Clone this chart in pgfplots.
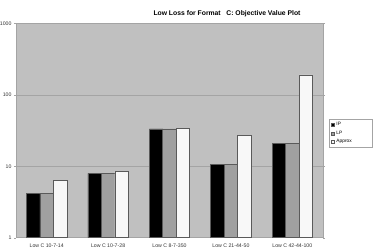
\documentclass[border=0pt]{standalone}
\usepackage{fontspec}
\setmainfont{Liberation Sans}
\usepackage{pgfplots}
\pgfplotsset{compat=1.18}
\definecolor{bg}{HTML}{C0C0C0}
\definecolor{lp}{HTML}{A0A0A0}
\definecolor{ap}{HTML}{F8F8F8}
\definecolor{edge}{HTML}{5A5A5A}
\definecolor{gridc}{HTML}{A4A4A4}
\begin{document}
\begin{tikzpicture}[x=1pt,y=1pt]
\useasboundingbox (0,0) rectangle (379,251);
\node[font=\bfseries\fontsize{6.8}{7}\selectfont] at (227,237) {Low Loss for Format\ \ \ C: Objective Value Plot};
\begin{axis}[
  at={(16pt,13.3pt)}, anchor=south west,
  scale only axis, width=307pt, height=214.2pt,
  ymode=log, ymin=1, ymax=1000,
  xmin=-0.5, xmax=4.5,
  ybar=0pt, bar width=13.5pt,
  axis background/.style={fill=bg},
  axis line style={gridc, line width=0.8pt},
  ytick={1,10,100,1000}, yticklabels={1,10,100,1000},
  yminorticks=false,
  ymajorgrids, major grid style={gridc, line width=0.6pt},
  xtick={0,1,2,3,4},
  xticklabels={Low C 10-7-14, Low C 10-7-28, Low C 8-7-350, Low C 21-44-50, Low C 42-44-100},
  x tick style={draw=none},
  extra x ticks={0.5,1.5,2.5,3.5},
  extra x tick labels={},
  extra x tick style={tick style={draw=gridc}},
  y tick style={gridc}, major tick length=2pt, tick align=outside,
  tick label style={font=\fontsize{5.2}{6}\selectfont, text=black!80},
  yticklabel style={xshift=1pt},
  xticklabel style={yshift=-1pt},
  /pgf/number format/assume math mode=true,
  legend style={at={(1.0195,0.552)}, anchor=north west, draw=gridc, fill=white,
    font=\fontsize{4.8}{5.5}\selectfont, inner xsep=1.5pt, inner ysep=1pt,
    row sep=-0.5pt, text width=32pt, cells={anchor=west}},
  legend image code/.code={\draw[#1, line width=0.4pt] (0pt,-1.6pt) rectangle (3.4pt,1.6pt);},
  legend cell align=left,
  clip=false,
]
\addplot[fill=black, draw=edge, line width=0.6pt] coordinates {(0,4.19) (1,7.98) (2,33.3) (3,10.5) (4,21.0)};
\addplot[fill=lp, draw=edge, line width=0.6pt] coordinates {(0,4.19) (1,7.98) (2,33.3) (3,10.5) (4,21.0)};
\addplot[fill=ap, draw=edge, line width=0.6pt] coordinates {(0,6.37) (1,8.5) (2,33.9) (3,27.2) (4,190)};
\legend{IP,LP,Approx}
\end{axis}
\end{tikzpicture}
\end{document}
